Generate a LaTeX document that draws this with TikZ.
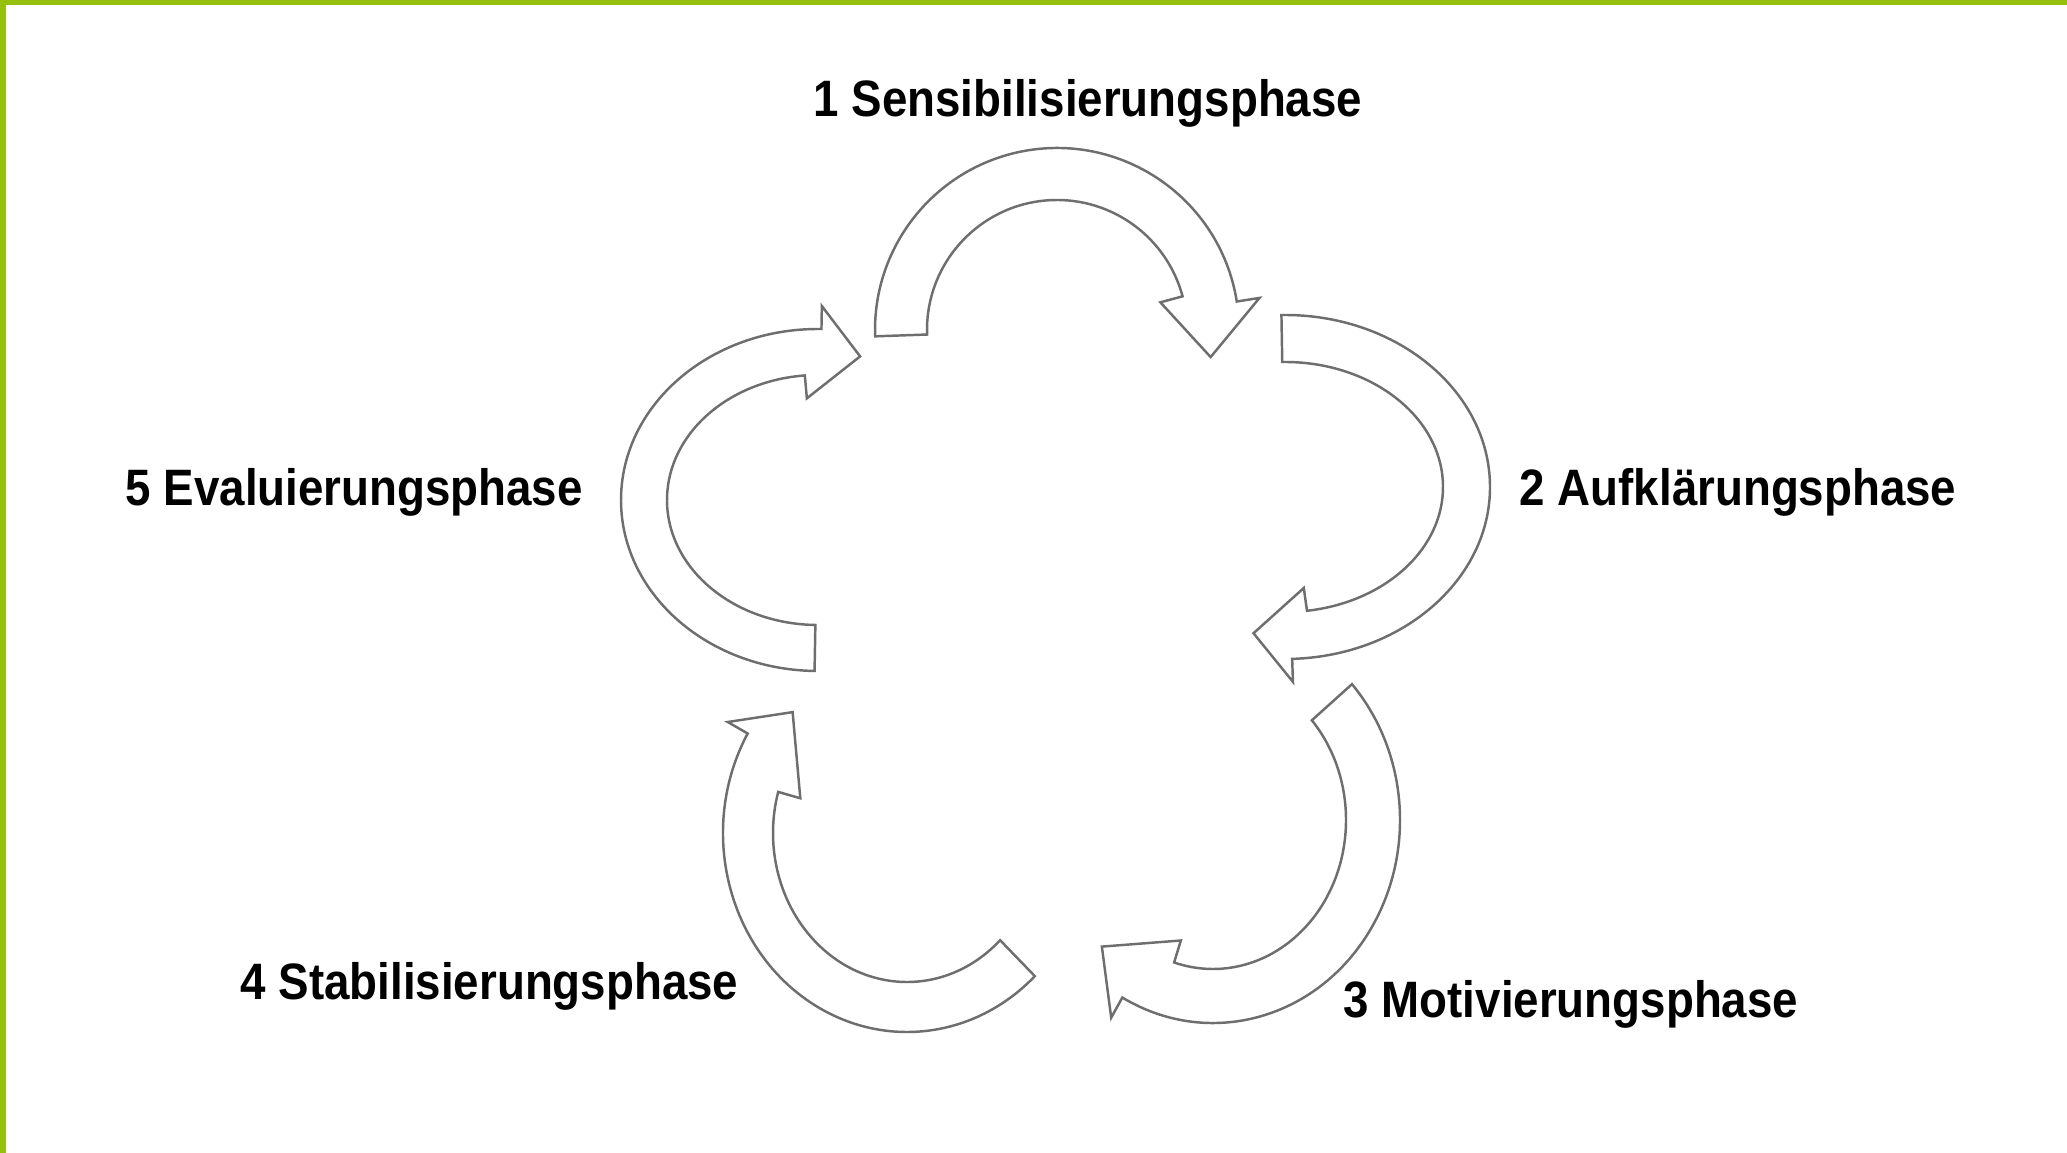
\documentclass[tikz,border=0pt]{standalone}
\usepackage{fontspec}
\setmainfont{Liberation Sans}
\usetikzlibrary{positioning}

\definecolor{framegreen}{RGB}{150,192,14}
\definecolor{arrowline}{RGB}{110,110,110}

\tikzset{
  phase/.style={font=\fontsize{13}{15}\selectfont\bfseries, inner sep=0pt, anchor=base west, yscale=1.12},
  phasearrow/.style={draw=arrowline, fill=white, line width=0.7pt, line join=miter}
}

% curved block arrow: center, outer x radius, outer y radius, width, start angle, end angle, head angle, head tilt
\newcommand{\phasearrow}[8]{%
  \pgfmathsetmacro{\arIx}{#2-#4}\pgfmathsetmacro{\arIy}{#3-#4}%
  \pgfmathsetmacro{\arMx}{#2-#4/2}\pgfmathsetmacro{\arMy}{#3-#4/2}%
  \pgfmathsetmacro{\arBx}{#2-#4-0.23}\pgfmathsetmacro{\arBy}{#3-#4-0.23}%
  \pgfmathsetmacro{\arOx}{#2+0.23}\pgfmathsetmacro{\arOy}{#3+0.23}%
  \pgfmathsetmacro{\arTip}{#6-#7}%
  \pgfmathsetmacro{\arIe}{#6+#8}\pgfmathsetmacro{\arOe}{#6-#8}%
  \draw[phasearrow, shift={#1}] (#5:\arIx cm and \arIy cm)
    arc[start angle=#5, end angle=\arIe, x radius=\arIx cm, y radius=\arIy cm]
    -- (\arIe:\arBx cm and \arBy cm) -- (\arTip:\arMx cm and \arMy cm)
    -- (\arOe:\arOx cm and \arOy cm) -- (\arOe:#2cm and #3cm)
    arc[start angle=\arOe, end angle=#5, x radius=#2cm, y radius=#3cm] -- cycle;}

\begin{document}
\begin{tikzpicture}
\useasboundingbox (0,0) rectangle (20.67,-11.53);
% Frame
\fill[framegreen] (0,0) rectangle (20.67,-0.05);
\fill[framegreen] (0,0) rectangle (0.06,-11.53);

% Arrows
\phasearrow{(10.57,-3.30)}{1.82}{1.82}{0.52}{182}{12}{22}{3}
\phasearrow{(12.85,-4.87)}{2.05}{1.72}{0.47}{91}{-85}{15}{3}
\phasearrow{(12.13,-8.20)}{1.87}{2.03}{0.54}{42}{-113}{21}{6}
\phasearrow{(9.07,-8.33)}{1.84}{1.99}{0.50}{-46}{-203}{21}{7}
\phasearrow{(8.18,-5.00)}{1.97}{1.71}{0.46}{-91}{-268}{16}{3}

% Phases
\node[phase] (sens) at (8.13,-1.17) {1 Sensibilisierungsphase};
\node[phase] (aufkl) at (15.19,-5.06) {2 Aufklärungsphase};
\node[phase] (motiv) at (13.43,-10.17) {3 Motivierungsphase};
\node[phase] (stab) at (2.40,-9.99) {4 Stabilisierungsphase};
\node[phase] (eval) at (1.25,-5.06) {5 Evaluierungsphase};

\end{tikzpicture}
\end{document}
